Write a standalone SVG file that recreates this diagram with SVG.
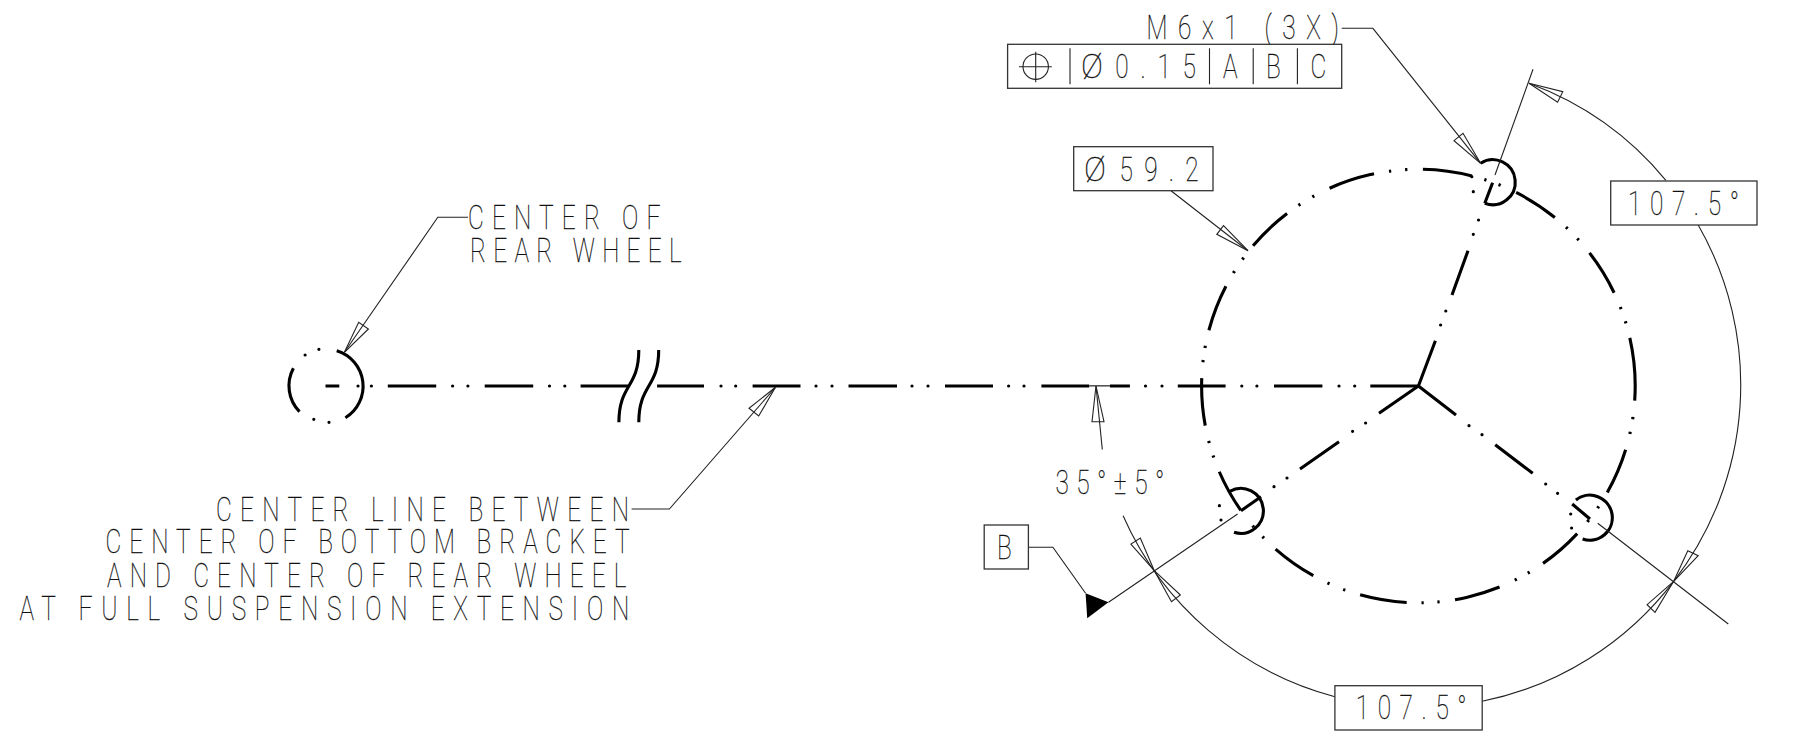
<svg xmlns="http://www.w3.org/2000/svg" width="1796" height="748" viewBox="0 0 1796 748">
<style>
.t{font-family:Roboto,"Liberation Sans",sans-serif;font-weight:100;font-size:33px;fill:#111;stroke:#111;stroke-width:.3}
.thin{fill:none;stroke:#222;stroke-width:1.1}
.box{fill:#fff;stroke:#333;stroke-width:1.3}
.arr{fill:none;stroke:#222;stroke-width:1.1;stroke-linejoin:miter}
.bold{fill:none;stroke:#000;stroke-width:3.1}
.dot{fill:none;stroke:#000;stroke-width:3.2;stroke-linecap:round}
</style>
<rect width="1796" height="748" fill="#fff"/>
<g id="bolt-circle">
<circle class="bold" cx="1418.4" cy="386" r="216.8" pathLength="360" transform="rotate(-12.8 1418.4 386)" stroke-dasharray="16.7 4.3 .6 3.4 .6 4.3 12.3 4.3 .6 3.9 .6 4.1 12 4.2 .6 3.3 .6 4.4 12.3 4.1 .6 3.6 .6 3.9 12.5 4.1 .6 3.9 .6 4.2 12.2 4.2 .6 3.3 .6 5.1 11.7 4 .6 3.4 .6 4.2 12.6 4.2 .6 3.2 .6 4.2 12.5 4 .6 3.7 .6 4 12.4 3.7 .6 3.7 .6 4.5 12.4 4 .6 3.7 .6 4.1 13.1 3.4 .6 3.4 .6 4.5 12.2 3.9 .6 3.6 .6 4.4 12.4 4.1 .6 3.4 .6 4"/>
</g>
<g id="center-lines">
<path class="bold" d="M325.5 386H339.3M387.8 386H436.2M484.7 386H533.2M580.6 386H628.6M657.1 386H704M752.6 386H800.5M848.5 386H897M945 386H993M1041.4 386H1089.3M1110 386H1129.9M1177.8 386H1225.6M1274 386H1322.4M1370.3 386H1418.4"/>
<path class="dot" d="M358 386h.01M371.4 386h.01M452.6 386h.01M467.9 386h.01M549.5 386h.01M564.8 386h.01M721 386h.01M735.7 386h.01M816 386h.01M832 386h.01M912 386h.01M928 386h.01M1008.6 386h.01M1024 386h.01M1145.5 386h.01M1162 386h.01M1241.8 386h.01M1256.9 386h.01M1339 386h.01M1354.7 386h.01"/>
<path class="bold" d="M1418.4 386L1435.4 340.7M1452 295L1468 250.7M1484.8 203.3L1492.6 182.7"/>
<path class="dot" d="M1440.6 325h.01M1445.8 311h.01M1473.3 234.3h.01M1478.5 220h.01"/>
<path class="bold" d="M1418.4 386L1379 413.3M1339 441.7L1300 469M1261 496.7L1241 510.7"/>
<path class="dot" d="M1365.6 423h.01M1352.6 431.3h.01M1287 478h.01M1274 486.7h.01"/>
<path class="bold" d="M1418.4 386L1456 415M1495.2 444.7L1532.7 473.3M1572.2 504L1590 519"/>
<path class="dot" d="M1469 425.7h.01M1482 434.7h.01M1545.7 484h.01M1557.6 493.3h.01"/>
</g>
<g id="hole-top"><path class="bold" d="M1480.6 163.3A22.5 22.5 0 1 1 1484.8 203.3"/><path class="dot" d="M1473.3 191.7h.01M1471.8 176.7h.01"/></g>
<g id="hole-left"><path class="bold" d="M1229.8 491.3A22.5 22.5 0 1 1 1234 532.3"/><path class="dot" d="M1219.4 505.7h.01M1221 520h.01"/></g>
<g id="hole-right"><path class="bold" d="M1575.9 500A22.5 22.5 0 1 1 1582.6 539"/><path class="dot" d="M1570.7 514h.01M1571.6 528h.01"/></g>
<g id="rear-wheel"><path class="bold" d="M336.7 350.7A37 37 0 0 1 345.4 417.7M293.4 368.3A37 37 0 0 0 299.5 411.7"/><path class="dot" d="M318.9 349.3h.01M305.1 355h.01M313.8 419.3h.01M329 422.3h.01"/></g>
<g id="break-symbol"><path class="bold" d="M638.8 350C638.8 388 618.9 384 618.9 422.3M658.7 350C658.7 388 638.8 384 638.8 422.3"/></g>
<g id="connectors">
<path class="thin" d="M468 217.3H437.8L344.4 352.3"/>
<path class="arr" d="M344.4 352.3L358.7 322.3L368.4 329Z"/>
<path class="thin" d="M631.6 509H669.4L775.5 387.3"/>
<path class="arr" d="M775.5 387.3L749 408.3L758.7 416Z"/>
<path class="thin" d="M1341.7 28.3H1372.9L1480.6 163.3"/>
<path class="arr" d="M1480.6 163.3L1463 133.3L1454 140.7Z"/>
<path class="thin" d="M1171 190.7L1248 250.7"/>
<path class="arr" d="M1248 250.7L1223.5 225.7L1216.8 234.3Z"/>
<path class="thin" d="M1495 175L1533 69.3"/>
<path class="thin" d="M1529 83.3A321.5 321.5 0 0 1 1665.9 180.3M1698.2 225A321.5 321.5 0 0 1 1673.7 581.3"/>
<path class="arr" d="M1529 83.3L1562.8 91.7L1557.6 102.3Z"/>
<path class="arr" d="M1673.7 581.3L1687.8 550.7L1698.2 555.7Z"/>
<path class="thin" d="M1673.7 581.3A321.5 321.5 0 0 1 1482.2 701.3M1334.9 696.7A321.5 321.5 0 0 1 1123.1 515.7"/>
<path class="arr" d="M1673.7 581.3L1647.1 604.7L1655 612.3Z"/>
<path class="arr" d="M1154.3 570.7L1171.5 601.7L1180.4 595Z"/>
<path class="arr" d="M1154.3 570.7L1130.9 544L1140.3 538Z"/>
<path class="thin" d="M1237.6 514L1108.5 602.3M1597.7 523.3L1728.3 624"/>
<path class="thin" d="M1096 386L1102.3 449.5"/>
<path d="M1089.3 385.8H1110" fill="none" stroke="#555" stroke-width="1.6"/>
<path class="arr" d="M1096 386L1092 421.7H1104Z"/>
<path class="thin" d="M1028.4 547.3H1052.9L1085.6 593.3"/>
<path d="M1085.6 593.3L1108.5 602.3L1087.2 618.3Z" fill="#000"/>
</g>
<g id="label-rear-wheel">
<text class="t" transform="translate(468 229) scale(.74 1)" textLength="260">CENTER OF</text>
<text class="t" transform="translate(470 261.7) scale(.74 1)" textLength="286">REAR WHEEL</text>
</g>
<g id="label-center-line">
<text class="t" transform="translate(216 521) scale(.74 1)" textLength="558">CENTER LINE BETWEEN</text>
<text class="t" transform="translate(105.6 553.3) scale(.74 1)" textLength="708">CENTER OF BOTTOM BRACKET</text>
<text class="t" transform="translate(107 586.7) scale(.74 1)" textLength="702">AND CENTER OF REAR WHEEL</text>
<text class="t" transform="translate(19.4 620) scale(.74 1)" textLength="824">AT FULL SUSPENSION EXTENSION</text>
</g>
<g id="label-thread">
<text class="t" transform="translate(1146.5 39.3) scale(.74 1)" textLength="260">M6x1 (3X)</text>
</g>
<g id="feature-control-frame">
<rect class="box" x="1007.6" y="44.3" width="334.1" height="44"/>
<path class="thin" d="M1070 48.3V84.3M1209.5 48.3V84.3M1253.2 48.3V84.3M1297.4 48.3V84.3M1035.7 51.7V82.3M1019 66.7H1051.8"/>
<circle class="thin" cx="1035.7" cy="66.7" r="12.7"/>
<text class="t" transform="translate(1081 77.7)">Ø</text>
<text class="t" transform="translate(1115.3 77.7) scale(.74 1)" textLength="109">0.15</text>
<text class="t" transform="translate(1223 77.7) scale(.74 1)">A</text>
<text class="t" transform="translate(1266 77.7) scale(.74 1)">B</text>
<text class="t" transform="translate(1310.5 77.7) scale(.74 1)">C</text>
</g>
<g id="dim-diameter">
<rect class="box" x="1073.7" y="146.7" width="139.3" height="44"/>
<text class="t" transform="translate(1084 181)">Ø</text>
<text class="t" transform="translate(1119.5 181) scale(.74 1)" textLength="107">59.2</text>
</g>
<g id="dim-angle-top">
<rect class="box" x="1610.7" y="181" width="146.3" height="44"/>
<text class="t" transform="translate(1628 215) scale(.74 1)" textLength="150">107.5°</text>
</g>
<g id="dim-angle-bottom">
<rect class="box" x="1334.9" y="685.7" width="147.3" height="44.3"/>
<text class="t" transform="translate(1355.7 719) scale(.74 1)" textLength="150">107.5°</text>
</g>
<g id="dim-angle-35">
<text class="t" transform="translate(1055.5 494) scale(.74 1)" textLength="147">35°±5°</text>
</g>
<g id="datum-b">
<rect class="box" x="984.2" y="525" width="44.2" height="44"/>
<text class="t" transform="translate(997 558.5) scale(.74 1)">B</text>
</g>
</svg>
